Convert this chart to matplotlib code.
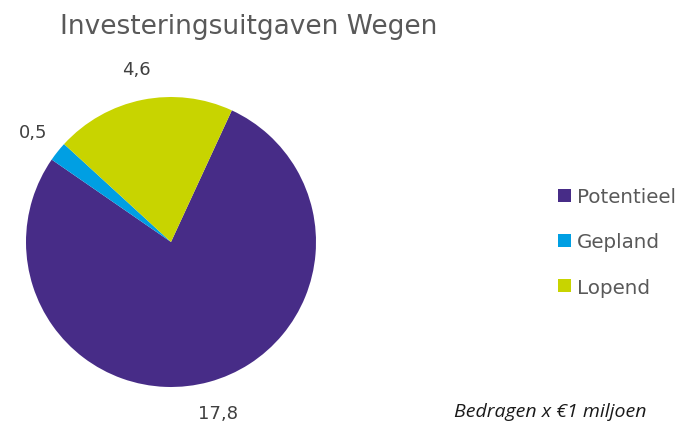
import matplotlib
matplotlib.use("Agg")
import matplotlib.pyplot as plt
from matplotlib.patches import Patch

plt.rcParams["font.family"] = ["DejaVu Sans"]

categories = ["Potentieel", "Gepland", "Lopend"]
values = [17.8, 0.5, 4.6]
value_labels = ["17,8", "0,5", "4,6"]
colors = ["#472C87", "#009FE3", "#C8D400"]

title = "Investeringsuitgaven Wegen"
note = "Bedragen x \u20ac1 miljoen"

fig = plt.figure(figsize=(6.81, 4.27), dpi=100)
fig.patch.set_facecolor("white")

cx, cy, r = 171, 243, 145
ax = fig.add_axes([(cx - r) / 681, (427 - cy - r) / 427, 2 * r / 681, 2 * r / 427])
wedges, texts = ax.pie(values, labels=value_labels, colors=colors,
                       startangle=65.2, counterclock=False,
                       labeldistance=1.22, radius=1.0,
                       wedgeprops=dict(linewidth=0),
                       textprops=dict(fontsize=13, color="#404040"))
for t in texts:
    t.set_ha("center")
    t.set_va("center")
ax.set_xlim(-1, 1)
ax.set_ylim(-1, 1)
ax.set_aspect("equal")
ax.axis("off")

fig.text(60 / 681, 1 - 27 / 427, title, fontsize=19, color="#595959",
         ha="left", va="center")

handles = [Patch(facecolor=c, edgecolor="none") for c in colors]
fig.legend(handles, categories, loc="center left",
           bbox_to_anchor=(548 / 681, 1 - 243 / 427), frameon=False,
           labelcolor="#595959", handlelength=0.65,
           handleheight=0.65, handletextpad=0.3, labelspacing=1.32,
           borderpad=0, prop=dict(size=14.3))

fig.text(647 / 681, 1 - 412 / 427, note, fontsize=14, style="italic",
         color="#1a1a1a", ha="right", va="center", family="Open Sans")

fig.savefig("out.png", dpi=100)
